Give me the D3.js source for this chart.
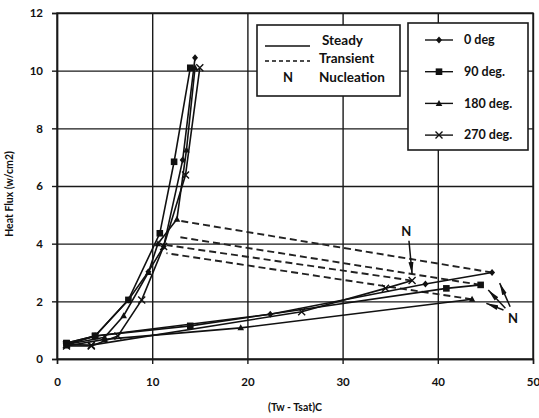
<!DOCTYPE html>
<html>
<head>
<meta charset="utf-8">
<script src="https://cdn.jsdelivr.net/npm/d3@7"></script>
<style>
  body { margin: 0; background: #fff; }
  text { font-family: Lato, "Open Sans", sans-serif; font-weight: bold; fill: #111; }
</style>
</head>
<body>
<svg class="chart"></svg>
<script>
const width = 539,
      height = 418,
      margin = { left: 57, right: 6, top: 13, bottom: 59 }

// series names (legend order)
const seriesNames = ["0 deg", "90 deg.", "180 deg.", "270 deg."]
const markerTypes = ["diamond", "square", "triangle", "cross"]

// steady curves [superheat, heat flux]
const steady0   = [[1, 0.5], [4, 0.8], [7.5, 2.05], [9.6, 3.03], [11.2, 3.9], [13.2, 6.9], [14.5, 10.45]]
const steady90  = [[1, 0.55], [4, 0.8], [7.5, 2.05], [10.8, 4.36], [12.3, 6.84], [14.0, 10.1]]
const steady180 = [[1, 0.5], [5, 0.75], [7, 1.5], [9.6, 3.0], [10.6, 4.0], [12.6, 4.85], [13.6, 7.25], [14.5, 10.1]]
const steady270 = [[1, 0.45], [3.6, 0.45], [6.4, 0.8], [8.9, 2.05], [11.2, 3.9], [13.5, 6.38], [15.0, 10.1]]

// heating branch before nucleation
const heat0   = [[1, 0.5], [4, 0.8], [22.4, 1.55], [38.7, 2.6], [45.7, 3.0]]
const heat90  = [[1, 0.55], [4, 0.8], [14.0, 1.15], [40.9, 2.45], [44.5, 2.57]]
const heat180 = [[1, 0.45], [5, 0.68], [19.3, 1.08], [43.6, 2.07]]
const heat270 = [[1, 0.5], [3.6, 0.48], [25.7, 1.64], [34.5, 2.45], [37.3, 2.72]]

// transient drop after nucleation
const trans0   = [[45.7, 3.0], [12.4, 4.82]]
const trans90  = [[44.5, 2.57], [12.6, 4.24]]
const trans180 = [[43.6, 2.07], [11.5, 3.67]]
const trans270 = [[37.3, 2.72], [11.5, 3.95]]

const xTicks = [0, 10, 20, 30, 40, 50]
const yTicks = [0, 2, 4, 6, 8, 10, 12]

// nucleation annotations: label position and arrows [x1, y1, x2, y2]
const nLabels = [[36.7, 4.44], [47.9, 1.42]]
const nArrows = [[36.97, 4.1, 37.3, 2.95], [47.6, 1.81, 46.5, 2.63], [47.1, 1.76, 45.3, 2.39], [46.9, 1.70, 45.1, 1.93]]

const steady = [steady0, steady90, steady180, steady270],
      heating = [heat0, heat90, heat180, heat270],
      transient = [trans0, trans90, trans180, trans270]

const svg = d3.select(".chart").attr("width", width).attr("height", height)

const x = d3.scaleLinear().domain([0, 50]).range([margin.left, width - margin.right])
const y = d3.scaleLinear().domain([0, 12]).range([height - margin.bottom, margin.top])

svg.append("defs").append("marker")
    .attr("id", "arrow")
    .attr("viewBox", "0 0 12 6")
    .attr("refX", 12).attr("refY", 3)
    .attr("markerWidth", 12).attr("markerHeight", 6)
    .attr("markerUnits", "userSpaceOnUse")
    .attr("orient", "auto")
  .append("path")
    .attr("d", "M0,0.5 L12,3 L0,5.5 Z")
    .attr("fill", "#111")

// grid
svg.append("g")
    .attr("transform", `translate(0,${y(0)})`)
    .call(d3.axisBottom(x).tickValues(xTicks).tickSize(-(y(0) - y(12))).tickFormat(""))
    .call(g => g.select(".domain").remove())
    .selectAll("line").attr("stroke", "#1a1a1a").attr("stroke-width", 1.4)

svg.append("g")
    .attr("transform", `translate(${x(0)},0)`)
    .call(d3.axisLeft(y).tickValues(yTicks).tickSize(-(x(50) - x(0))).tickFormat(""))
    .call(g => g.select(".domain").remove())
    .selectAll("line").attr("stroke", "#1a1a1a").attr("stroke-width", 1.4)

// axes with labels
const xAxis = svg.append("g")
    .attr("transform", `translate(0,${y(0)})`)
    .call(d3.axisBottom(x).tickValues(xTicks).tickSize(5).tickPadding(14))
xAxis.select(".domain").attr("stroke", "#1a1a1a").attr("stroke-width", 1.4)
xAxis.selectAll("line").attr("stroke", "#1a1a1a").attr("stroke-width", 1.4)
xAxis.selectAll("text").style("font-size", "11.5px")

const yAxis = svg.append("g")
    .attr("transform", `translate(${x(0)},0)`)
    .call(d3.axisLeft(y).tickValues(yTicks).tickSize(5).tickPadding(9))
yAxis.select(".domain").attr("stroke", "#1a1a1a").attr("stroke-width", 1.4)
yAxis.selectAll("line").attr("stroke", "#1a1a1a").attr("stroke-width", 1.4)
yAxis.selectAll("text").style("font-size", "11.5px")

svg.append("rect")
    .attr("x", x(0)).attr("y", y(12))
    .attr("width", x(50) - x(0)).attr("height", y(0) - y(12))
    .attr("fill", "none").attr("stroke", "#1a1a1a").attr("stroke-width", 1.4)

svg.append("text")
    .attr("x", 295).attr("y", 411)
    .attr("text-anchor", "middle")
    .style("font-size", "10.5px")
    .text("(Tw - Tsat)C")

svg.append("text")
    .attr("transform", `translate(13,${(y(0) + y(12)) / 2 + 8}) rotate(-90)`)
    .attr("text-anchor", "middle")
    .style("font-size", "10.5px")
    .text("Heat Flux (w/cm2)")

const line = d3.line().x(d => x(d[0])).y(d => y(d[1]))

const marker = (sel, type) => {
  if (type === "diamond") {
    sel.append("path").attr("d", "M0,-3.5 L3,0 L0,3.5 L-3,0 Z").attr("fill", "#111")
  } else if (type === "square") {
    sel.append("rect").attr("x", -3.3).attr("y", -3.3).attr("width", 6.6).attr("height", 6.6).attr("fill", "#111")
  } else if (type === "triangle") {
    sel.append("path").attr("d", "M0,-3.5 L3.3,2.5 L-3.3,2.5 Z").attr("fill", "#111")
  } else {
    sel.append("path").attr("d", "M-3.5,-3.5 L3.5,3.5 M-3.5,3.5 L3.5,-3.5").attr("stroke", "#111").attr("stroke-width", 1.4)
  }
}

// transient dashed lines
svg.append("g").selectAll("path")
    .data(transient)
    .enter()
    .append("path")
      .attr("d", line)
      .attr("fill", "none")
      .attr("stroke", "#222")
      .attr("stroke-width", 1.9)
      .attr("stroke-dasharray", "7,4")

// steady + heating solid lines
seriesNames.forEach((name, i) => {
  [steady[i], heating[i]].forEach(pts => {
    svg.append("path")
        .attr("d", line(pts))
        .attr("fill", "none")
        .attr("stroke", "#111")
        .attr("stroke-width", 1.6)

    svg.append("g").selectAll("g")
        .data(pts)
        .enter()
        .append("g")
          .attr("transform", d => `translate(${x(d[0])},${y(d[1])})`)
          .each(function () { marker(d3.select(this), markerTypes[i]) })
  })
})

// nucleation annotations
svg.append("g").selectAll("line")
    .data(nArrows)
    .enter()
    .append("line")
      .attr("x1", d => x(d[0])).attr("y1", d => y(d[1]))
      .attr("x2", d => x(d[2])).attr("y2", d => y(d[3]))
      .attr("stroke", "#111").attr("stroke-width", 1.5)
      .attr("marker-end", "url(#arrow)")

svg.append("g").selectAll("text")
    .data(nLabels)
    .enter()
    .append("text")
      .attr("x", d => x(d[0])).attr("y", d => y(d[1]))
      .attr("text-anchor", "middle")
      .attr("dy", "0.35em")
      .style("font-size", "13px")
      .text("N")

// legend: line styles
const leg1 = svg.append("g")
leg1.append("rect")
    .attr("x", 257).attr("y", 25).attr("width", 143).attr("height", 71)
    .attr("fill", "#fff").attr("stroke", "#1a1a1a").attr("stroke-width", 1.6)
leg1.append("line").attr("x1", 265).attr("x2", 310).attr("y1", 46).attr("y2", 46)
    .attr("stroke", "#111").attr("stroke-width", 1.4)
leg1.append("line").attr("x1", 265).attr("x2", 310).attr("y1", 61).attr("y2", 61)
    .attr("stroke", "#111").attr("stroke-width", 1.4).attr("stroke-dasharray", "4,3")
leg1.append("text").attr("x", 288).attr("y", 77).attr("dy", "0.35em").attr("text-anchor", "middle")
    .style("font-size", "13px").text("N")
leg1.selectAll(".lab")
    .data(["Steady", "Transient", "Nucleation"])
    .enter()
    .append("text")
      .attr("x", (d, i) => i === 0 ? 322 : 319)
      .attr("y", (d, i) => 40 + i * 18.5)
      .attr("dy", "0.35em")
      .style("font-size", "13.5px")
      .text(d => d)

// legend: orientations
const leg2 = svg.append("g")
leg2.append("rect")
    .attr("x", 408).attr("y", 23).attr("width", 120).attr("height", 127)
    .attr("fill", "#fff").attr("stroke", "#1a1a1a").attr("stroke-width", 1.6)
seriesNames.forEach((name, i) => {
  const yy = 40 + i * 31.7
  leg2.append("line").attr("x1", 425).attr("x2", 453).attr("y1", yy).attr("y2", yy)
      .attr("stroke", "#111").attr("stroke-width", 1.4)
  const m = leg2.append("g").attr("transform", `translate(439,${yy})`)
  marker(m, markerTypes[i])
  leg2.append("text").attr("x", 464).attr("y", yy).attr("dy", "0.35em")
      .style("font-size", "12.5px").text(name)
})
</script>
</body>
</html>
